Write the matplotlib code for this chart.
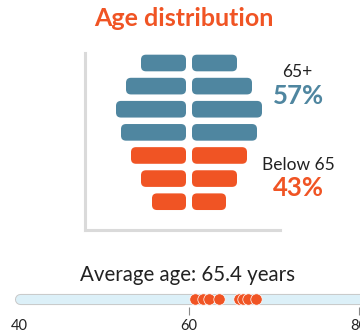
import matplotlib
matplotlib.use("Agg")
import matplotlib.pyplot as plt
from matplotlib.patches import FancyBboxPatch

plt.rcParams['font.family'] = ['Lato', 'DejaVu Sans']

# Werte
group_sizes = [45, 60, 70, 65, 55, 45, 34]          # oben -> unten
group_old = [True, True, True, True, False, False, False]
share_old = 57
share_young = 43
patient_ages = [60.75, 61.6, 62.4, 63.5, 65.9, 66.4, 66.9, 67.9]
avg_age = 65.4
age_ticks = [40, 60, 80]

BLUE = '#4f86a0'
ORANGE = '#f05424'
GREY = '#dadada'

W, H = 360, 335
fig = plt.figure(figsize=(W / 100, H / 100), dpi=100)


def px_box(left, top, right, bottom):
    # Pixel -> figure Koordinaten
    return [left / W, 1 - bottom / H, (right - left) / W, (bottom - top) / H]


# Pyramide
ax = fig.add_axes(px_box(85, 53, 280, 230))
row_px = 23.12
gap = 3
bar_h = 0.72
for i, (v, old) in enumerate(zip(group_sizes, group_old)):
    col = BLUE if old else ORANGE
    for x0 in (-gap - v, gap):
        p = FancyBboxPatch((x0, i - bar_h / 2), v, bar_h,
                           boxstyle="round,pad=0,rounding_size=5",
                           mutation_aspect=1 / row_px,
                           fc=col, ec='none')
        ax.add_patch(p)
ax.set_xlim(-104, 91)
ax.set_ylim(6 + 28.3 / row_px, -10 / row_px)
ax.set_xticks([])
ax.set_yticks([])
for s in ('top', 'right'):
    ax.spines[s].set_visible(False)
for s in ('left', 'bottom'):
    ax.spines[s].set_color(GREY)
    ax.spines[s].set_linewidth(2.2)

fig.text(183.5 / W, 1 - 18 / H, 'Age distribution', ha='center', va='center',
         fontsize=18, fontweight='bold', color=ORANGE)

fig.text(297 / W, 1 - 72 / H, '65+', ha='center', va='center',
         fontsize=12.5, color='#222222')
fig.text(298 / W, 1 - 96 / H, f'{share_old}%', ha='center', va='center',
         fontsize=18.5, fontweight='bold', color=BLUE)
fig.text(298 / W, 1 - 165 / H, 'Below 65', ha='center', va='center',
         fontsize=12.5, color='#222222')
fig.text(298 / W, 1 - 188 / H, f'{share_young}%', ha='center', va='center',
         fontsize=18.5, fontweight='bold', color=ORANGE)

# Altersstreifen
fig.text(188 / W, 1 - 275 / H, f'Average age: {avg_age} years', ha='center',
         va='center', fontsize=14.8, color='#222222')

ax2 = fig.add_axes(px_box(0, 285, 360, 307))
ax2.set_xlim(40 - 19.3 / 8.485, 80 + 1.3 / 8.485)
ax2.set_ylim(0, 1)
yc = 8 / 22
ax2.plot([40.1, 82], [yc, yc], color='#c8c8c8', lw=8, solid_capstyle='round',
         zorder=1)
ax2.plot([40.1, 82], [yc, yc], color='#dcf0f8', lw=6.6, solid_capstyle='round',
         zorder=2)
ax2.plot(patient_ages, [yc] * len(patient_ages), 'o', ms=8.2, color=ORANGE,
         mec='white', mew=0.5, zorder=3)
ax2.set_xticks(age_ticks)
ax2.set_yticks([])
ax2.tick_params(axis='x', length=6, width=0.8, color='#888888', pad=3,
                labelsize=10.5, labelcolor='#222222')
ax2.xaxis.get_major_ticks()[0].tick1line.set_visible(False)
for s in ax2.spines.values():
    s.set_visible(False)
ax2.patch.set_alpha(0)

fig.savefig('out.png', dpi=100)
